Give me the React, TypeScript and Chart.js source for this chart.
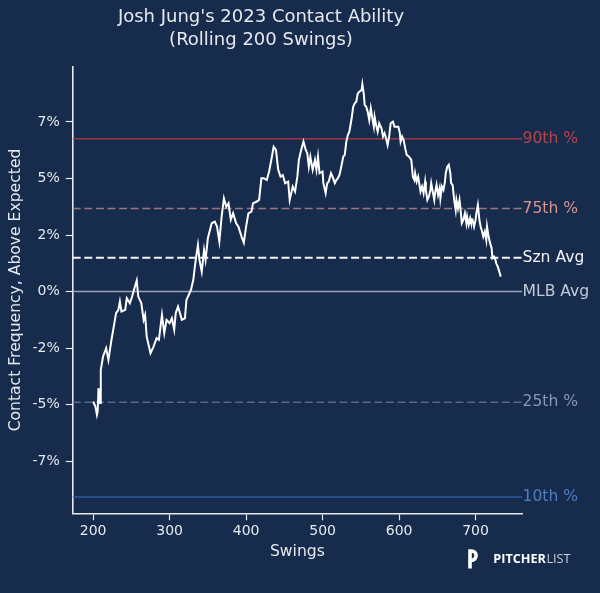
import React, { useEffect, useRef } from "react";
import { Chart, registerables } from "chart.js";

Chart.register(...registerables);

// rolling 200-swing contact frequency above expected (%), by swing number
const swings = [
  200, 203, 205, 206, 207, 209, 210, 213, 217, 220, 224, 227, 230, 233, 235, 237, 242, 244, 248, 251,
  254, 257, 259, 263, 266, 268, 270, 273, 275, 279, 283, 286, 290, 293, 296, 300, 303, 306, 308, 311,
  316, 320, 322, 325, 328, 331, 333, 335, 337, 339, 342, 345, 347, 350, 355, 359, 362, 365, 368, 371,
  374, 377, 380, 383, 387, 390, 394, 397, 400, 403, 407, 409, 414, 417, 420, 423, 427, 430, 433, 436,
  439, 442, 445, 448, 451, 455, 457, 461, 464, 467, 469, 472, 475, 478, 480, 482, 484, 487, 490, 492,
  494, 496, 500, 501, 504, 506, 508, 511, 513, 516, 518, 520, 522, 524, 527, 529, 531, 533, 535, 538,
  540, 542, 544, 546, 548, 551, 552, 554, 555, 557, 559, 561, 563, 565, 567, 568, 570, 572, 574, 577,
  579, 581, 583, 585, 587, 589, 592, 594, 599, 601, 602, 604, 606, 608, 610, 613, 616, 618, 620, 621,
  623, 625, 627, 628, 630, 632, 634, 635, 637, 639, 641, 642, 644, 646, 647, 649, 651, 653, 654, 656,
  658, 660, 661, 663, 665, 667, 668, 670, 672, 674, 675, 677, 679, 680, 682, 684, 686, 688, 689, 691,
  693, 694, 696, 698, 700, 701, 703, 705, 707, 708, 710, 712, 714, 715, 717, 719, 721, 722, 724, 726,
  727, 729, 731, 733,
];
const contactAboveExp = [
  -4.86, -5.08, -5.45, -5.3, -4.27, -4.93, -3.46, -2.87, -2.5, -3.02, -2.13, -1.55, -0.95, -0.81, -0.44, -0.88, -0.81, -0.29, -0.51, -0.22,
  0.15, 0.49, -0.22, -0.51, -1.25, -1.03, -1.99, -2.43, -2.72, -2.43, -2.06, -2.13, -1.03, -1.84, -1.25, -1.4, -1.18, -1.69, -0.95, -0.66,
  -1.25, -1.18, -0.37, -0.15, 0.08, 0.52, 1.1, 1.6, 2.06, 1.4, 0.88, 1.84, 1.4, 2.36, 3.02, 3.09, 2.87, 2.21, 3.31, 4.12,
  3.75, 3.9, 3.17, 3.46, 3.02, 2.87, 2.43, 2.16, 2.87, 3.46, 3.53, 3.9, 3.98, 4.05, 5.01, 5.01, 4.93, 5.3, 5.82, 6.4,
  6.26, 5.38, 5.08, 5.15, 4.79, 4.86, 4.05, 4.64, 4.42, 5.08, 5.82, 6.26, 6.63, 6.26, 6.11, 5.52, 5.96, 5.38, 5.82, 5.38,
  5.96, 5.23, 5.3, 4.79, 4.35, 4.79, 4.86, 5.23, 5.08, 4.79, 4.93, 5.01, 5.15, 5.45, 5.96, 6.04, 6.63, 6.92, 7.07, 7.66,
  8.17, 8.32, 8.39, 8.76, 8.83, 8.91, 9.16, 8.69, 8.25, 8.17, 7.95, 7.58, 8.1, 7.66, 7.29, 7.73, 7.36, 7.07, 7.44, 7.22,
  6.85, 7.0, 6.78, 6.48, 6.85, 7.44, 7.51, 7.29, 7.29, 7.0, 6.63, 6.85, 6.7, 6.33, 6.04, 5.96, 5.82, 5.08, 4.93, 5.23,
  4.86, 5.08, 4.64, 4.42, 4.64, 4.35, 4.86, 4.49, 4.05, 4.2, 4.49, 4.79, 4.42, 4.05, 4.35, 4.71, 4.27, 4.57, 4.12, 4.64,
  4.49, 4.86, 5.23, 5.52, 5.6, 5.23, 4.79, 4.71, 4.05, 3.61, 4.05, 3.68, 4.05, 3.75, 3.02, 3.17, 3.46, 3.02, 3.31, 2.95,
  3.24, 3.09, 3.17, 2.87, 3.17, 3.46, 3.83, 3.17, 2.8, 2.73, 2.43, 2.65, 2.28, 2.87, 2.43, 2.14, 1.92, 1.48, 1.55, 1.4,
  1.25, 1.1, 0.88, 0.66,
];

const xTicks = [200, 300, 400, 500, 600, 700];
const yTicks = [-7.5, -5, -2.5, 0, 2.5, 5, 7.5];

// reference lines
const refNames = ["90th %", "75th %", "Szn Avg", "MLB Avg", "25th %", "10th %"];
const refValues = [6.76, 3.67, 1.5, 0, -4.89, -9.08];

const refStyles = [
  { line: "#9b3a44", label: "#b9444b", dash: [], width: 1.5 },
  { line: "#9c7680", label: "#d6958f", dash: [8, 3.6], width: 1.5 },
  { line: "#f4f5f7", label: "#f4f5f7", dash: [8, 3.6], width: 2 },
  { line: "#98a3b5", label: "#c3cad6", dash: [], width: 1.5 },
  { line: "#56698c", label: "#8797b5", dash: [8, 3.6], width: 1.5 },
  { line: "#2d5c9e", label: "#4f7fc2", dash: [], width: 1.5 },
];

const X_MIN = 173.3;
const X_MAX = 760.7;
const BG = "#172b4d";
const FG = "#e6e9ee";
const FONT = '"DejaVu Sans", sans-serif';

const refLabels = {
  id: "refLabels",
  beforeDraw(chart: Chart) {
    const { ctx, width, height } = chart;
    ctx.save();
    ctx.fillStyle = BG;
    ctx.fillRect(0, 0, width, height);
    ctx.restore();
  },
  afterDraw(chart: Chart) {
    const { ctx, chartArea } = chart;
    const y = chart.scales.y;
    ctx.save();
    ctx.font = `15.6px ${FONT}`;
    ctx.textAlign = "left";
    ctx.textBaseline = "middle";
    refNames.forEach((name, i) => {
      ctx.fillStyle = refStyles[i].label;
      ctx.fillText(name, chartArea.right + 0.5, y.getPixelForValue(refValues[i]));
    });

    // PitcherList logo
    ctx.strokeStyle = "#ffffff";
    ctx.lineWidth = 3.6;
    ctx.lineCap = "butt";
    ctx.beginPath();
    ctx.moveTo(470, 568.5);
    ctx.lineTo(470, 551);
    ctx.lineTo(471.5, 551);
    ctx.arc(471.5, 555.6, 4.6, -Math.PI / 2, Math.PI / 2);
    ctx.lineTo(470, 560.2);
    ctx.stroke();

    ctx.textBaseline = "middle";
    let size = 12;
    ctx.font = `bold ${size}px "Open Sans", sans-serif`;
    size = size * 52.7 / ctx.measureText("PITCHER").width;
    ctx.font = `bold ${size}px "Open Sans", sans-serif`;
    ctx.fillStyle = "#ffffff";
    ctx.fillText("PITCHER", 493.3, 559.5);
    const w = ctx.measureText("PITCHER").width;
    ctx.font = `${size}px "Open Sans", sans-serif`;
    ctx.fillStyle = "#c9ced8";
    ctx.fillText("LIST", 493.3 + w + 0.5, 559.5);
    ctx.restore();
  },
};

const App: React.FC = () => {
  const canvasRef = useRef<HTMLCanvasElement | null>(null);

  useEffect(() => {
    document.body.style.margin = "0";
    document.body.style.background = BG;
    if (!canvasRef.current) return;

    const refSets = refNames.map((name, i) => ({
      label: name,
      data: [
        { x: X_MIN, y: refValues[i] },
        { x: X_MAX, y: refValues[i] },
      ],
      borderColor: refStyles[i].line,
      borderWidth: refStyles[i].width,
      borderDash: refStyles[i].dash,
      pointRadius: 0,
      order: 1,
    }));

    const chart = new Chart(canvasRef.current, {
      type: "line",
      data: {
        datasets: [
          {
            label: "Contact Frequency",
            data: swings.map((s, i) => ({ x: s, y: contactAboveExp[i] })),
            borderColor: "#ffffff",
            borderWidth: 2,
            pointRadius: 0,
            tension: 0,
            order: 0,
          },
          ...refSets,
        ],
      },
      options: {
        responsive: false,
        animation: false,
        layout: { padding: { left: 0, right: 78, top: 0, bottom: 0 } },
        plugins: {
          legend: { display: false },
          tooltip: { enabled: false },
          title: {
            display: true,
            text: ["Josh Jung's 2023 Contact Ability", "(Rolling 200 Swings)"],
            color: FG,
            font: { family: FONT, size: 18, weight: "normal", lineHeight: 1.28 },
            padding: { top: 5.5, bottom: 15.1 },
          },
        },
        scales: {
          x: {
            type: "linear",
            min: X_MIN,
            max: X_MAX,
            afterBuildTicks: (scale: any) => {
              scale.ticks = xTicks.map((v) => ({ value: v }));
            },
            afterFit: (scale: any) => {
              scale.height = 79.7;
            },
            grid: {
              drawOnChartArea: false,
              drawTicks: true,
              tickLength: 7,
              tickColor: FG,
              tickWidth: 1.2,
            },
            border: { color: FG, width: 1.6 },
            ticks: {
              color: FG,
              padding: 3,
              maxRotation: 0,
              font: { family: FONT, size: 14 },
              callback: (v: any) => `${v}`,
            },
            title: {
              display: true,
              text: "Swings",
              color: FG,
              font: { family: FONT, size: 15.6 },
              padding: { top: 0, bottom: 31.6 },
            },
          },
          y: {
            type: "linear",
            min: -9.8,
            max: 9.94,
            afterBuildTicks: (scale: any) => {
              scale.ticks = yTicks.map((v) => ({ value: v }));
            },
            afterFit: (scale: any) => {
              scale.width = 72.7;
            },
            grid: {
              drawOnChartArea: false,
              drawTicks: true,
              tickLength: 7,
              tickColor: FG,
              tickWidth: 1.2,
            },
            border: { color: FG, width: 1.6 },
            ticks: {
              color: FG,
              padding: 6,
              font: { family: FONT, size: 14 },
              callback: (v: any) => `${Math.trunc(Number(v))}%`,
            },
            title: {
              display: true,
              text: "Contact Frequency, Above Expected",
              color: FG,
              font: { family: FONT, size: 15.6 },
              padding: { top: 6.6, bottom: 0 },
            },
          },
        },
      },
      plugins: [refLabels],
    });

    return () => {
      chart.destroy();
    };
  }, []);

  return (
    <div style={{ width: 600, height: 593, background: BG }}>
      <canvas ref={canvasRef} width={600} height={593}></canvas>
    </div>
  );
};

export default App;
